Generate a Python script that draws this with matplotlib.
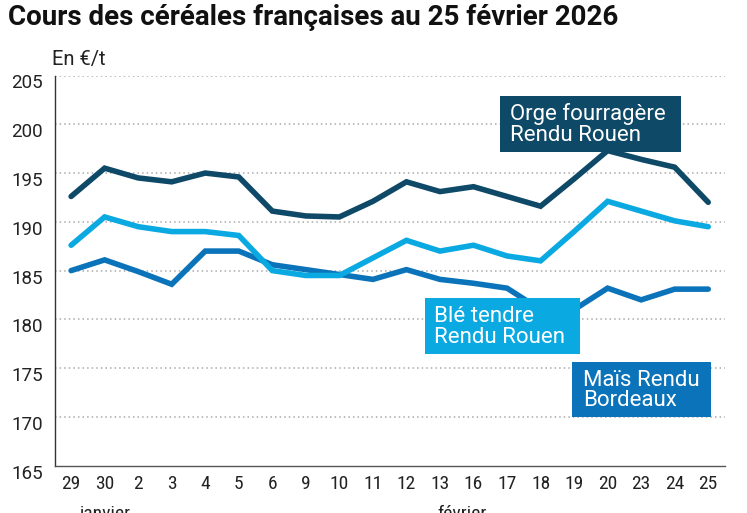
import matplotlib
matplotlib.use("Agg")
from matplotlib import pyplot as plt
from matplotlib.patches import Rectangle
from matplotlib.transforms import ScaledTranslation

# dates (janvier 29-30, then février)
jours = ['29', '30', '2', '3', '4', '5', '6', '9', '10', '11', '12', '13',
         '16', '17', '18', '19', '20', '23', '24', '25']

orge = [192.6, 195.5, 194.5, 194.1, 195.0, 194.6, 191.1, 190.6, 190.5, 192.1,
        194.1, 193.1, 193.6, 192.6, 191.6, 194.4, 197.3, 196.4, 195.6, 192.0]
ble = [187.6, 190.5, 189.5, 189.0, 189.0, 188.6, 185.0, 184.5, 184.5, 186.3,
       188.1, 187.0, 187.6, 186.5, 186.0, 189.0, 192.1, 191.1, 190.1, 189.5]
mais = [185.0, 186.1, 184.9, 183.6, 187.0, 187.0, 185.6, 185.1, 184.6, 184.1,
        185.1, 184.1, 183.7, 183.2, 181.0, 181.0, 183.2, 182.0, 183.1, 183.1]

yticks = [165, 170, 175, 180, 185, 190, 195, 200, 205]

c_orge = '#0f4968'
c_ble = '#0aa9e1'
c_mais = '#0a73ba'

W, H = 747, 513
regular = ['Roboto', 'DejaVu Sans']
cond = ['Roboto Condensed', 'Roboto', 'DejaVu Sans']
plt.rcParams['font.family'] = regular


def fx(x):
    return x / W


def fy(y):
    return 1 - y / H


fig = plt.figure(figsize=(W / 100, H / 100), dpi=100)
ax = fig.add_axes([fx(55), fy(465.7), fx(725) - fx(55), fy(75.5) - fy(465.7)])

x = list(range(len(jours)))
lw = 4.0
ax.plot(x, mais, color=c_mais, lw=lw, solid_capstyle='round', solid_joinstyle='miter', zorder=3)
ax.plot(x, ble, color=c_ble, lw=lw, solid_capstyle='round', solid_joinstyle='miter', zorder=3)
ax.plot(x, orge, color=c_orge, lw=lw, solid_capstyle='round', solid_joinstyle='miter', zorder=3)

ax.set_xlim(-0.48, 19.5)
ax.set_ylim(165, 205)
ax.set_yticks(yticks)
ax.set_xticks(x)
ax.set_xticklabels(jours)
for yv in yticks[1:]:
    ax.axhline(yv, color='#aaaaaa', lw=1.1, ls=(0, (1, 2)), zorder=1)

for s in ['top', 'right']:
    ax.spines[s].set_visible(False)
ax.spines['left'].set_color('#333333')
ax.spines['bottom'].set_color('#555555')
ax.spines['left'].set_linewidth(1.0)
ax.spines['bottom'].set_linewidth(1.0)
ax.tick_params(axis='both', length=0, colors='#222222')
ax.tick_params(axis='y', pad=8.5, labelsize=13.5)
ax.tick_params(axis='x', pad=7, labelsize=14)
shift = ScaledTranslation(0, -6 / 100, fig.dpi_scale_trans)
for lab in ax.get_yticklabels():
    lab.set_transform(lab.get_transform() + shift)
for lab in ax.get_xticklabels():
    lab.set_family(cond)

fig.text(fx(8), fy(4), 'Cours des céréales françaises au 25 février 2026',
         fontsize=20, fontweight='bold', color='#111111', va='top', ha='left')
fig.text(fx(52), fy(60), 'En €/t', fontsize=14.5, color='#222222', va='center', ha='left')

fig.text(fx(105), fy(505), 'janvier', fontsize=14, color='#222222', va='top', ha='center',
         family=cond)
fig.text(fx(462), fy(505), 'février', fontsize=14, color='#222222', va='top', ha='center',
         family=cond)

boxes = [
    ((500, 95.7, 681, 151.7), c_orge, 'Orge fourragère\nRendu Rouen', 510),
    ((425, 298.3, 580, 354), c_ble, 'Blé tendre\nRendu Rouen', 434),
    ((571.7, 361.7, 711, 417.3), c_mais, 'Maïs Rendu\nBordeaux', 583),
]
for (x0, y0, x1, y1), col, txt, tx in boxes:
    fig.patches.append(Rectangle((fx(x0), fy(y1)), fx(x1) - fx(x0), fy(y0) - fy(y1),
                                 transform=fig.transFigure, facecolor=col,
                                 edgecolor='none', zorder=5))
    fig.text(fx(tx), fy((y0 + y1) / 2 + 1), txt, fontsize=16, color='white',
             va='center', ha='left', linespacing=1.0, zorder=6)

fig.savefig('out.png', dpi=100)
